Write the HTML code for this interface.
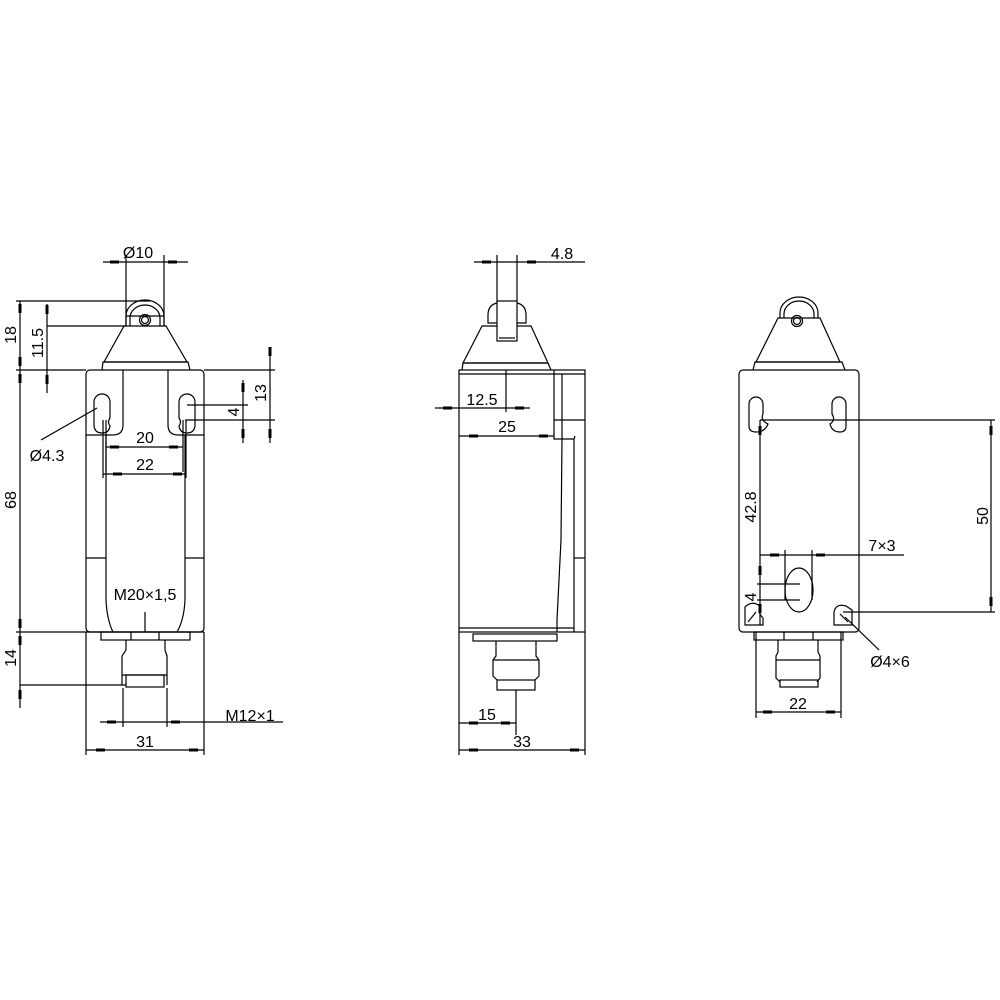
<!DOCTYPE html>
<html><head><meta charset="utf-8"><style>
html,body{margin:0;padding:0;background:#fff;}
svg{display:block}
text{font-family:"Liberation Sans",sans-serif;font-size:16px;fill:#000;}
</style></head><body>
<svg width="1000" height="1000" viewBox="0 0 1000 1000" xmlns="http://www.w3.org/2000/svg">
<g fill="none" stroke="#000" stroke-width="1.2">
<!-- ===== VIEW 1 ===== -->
<path d="M126 326 L126 316 A19 16 0 0 1 164 316 L164 326"/>
<path d="M130 326 L130 318 A15 13 0 0 1 160 318 L160 326"/>
<circle cx="145" cy="320" r="5.5"/><circle cx="145" cy="320" r="3.5"/>
<line x1="126" y1="316" x2="164" y2="316"/>
<path d="M124 326 L166 326 L187 362 L104 362 Z"/>
<path d="M102 370 L103 362 L188 362 L190 370"/>
<rect x="86" y="370" width="118" height="262" rx="4"/>
<path d="M123 370 L123 425 Q123 435 113 435 L86 435"/>
<path d="M168 370 L168 425 Q168 435 178 435 L204 435"/>
<path d="M106 435 L106 600 Q107 620 113 632"/>
<path d="M185 435 L185 600 Q184 620 177 632"/>
<line x1="86" y1="558" x2="106" y2="558"/><line x1="185" y1="558" x2="204" y2="558"/>
<path d="M94 402 A8 8 0 0 1 110 402 L110 418 Q107 422 110 426 Q109 433 102 433 Q95 433 94 426 Z"/>
<path d="M179 402 A8 8 0 0 1 195 402 L195 426 Q194 433 187 433 Q180 433 179 426 Q182 422 179 418 Z"/>
<rect x="101" y="632" width="89" height="8"/>
<line x1="131" y1="632" x2="131" y2="640"/><line x1="159" y1="632" x2="159" y2="640"/>
<path d="M126 640 L126 650 L122 656 L122 685 M165 640 L165 650 L167 656 L167 685"/>
<line x1="122" y1="675" x2="167" y2="675"/>
<rect x="126" y="675" width="38" height="12"/>
<line x1="103" y1="262" x2="188" y2="262"/>
<line x1="126" y1="255" x2="126" y2="326"/><line x1="164" y1="255" x2="164" y2="326"/>
<line x1="16" y1="301" x2="150" y2="301"/>
<line x1="16" y1="370" x2="86" y2="370"/>
<line x1="20" y1="301" x2="20" y2="708"/>
<line x1="47" y1="326" x2="125" y2="326"/>
<line x1="47" y1="304" x2="47" y2="393"/>
<line x1="16" y1="632" x2="204" y2="632"/>
<line x1="20" y1="685" x2="126" y2="685"/>
<line x1="204" y1="370" x2="275" y2="370"/>
<line x1="185" y1="420" x2="275" y2="420"/>
<line x1="187" y1="405" x2="248" y2="405"/>
<line x1="270" y1="347" x2="270" y2="443"/>
<line x1="243" y1="380" x2="243" y2="443"/>
<line x1="41" y1="440" x2="97" y2="408"/>
<line x1="106" y1="420" x2="106" y2="472"/><line x1="183" y1="420" x2="183" y2="472"/>
<line x1="103" y1="420" x2="103" y2="478"/><line x1="186" y1="420" x2="186" y2="478"/>
<line x1="106" y1="447" x2="183" y2="447"/>
<line x1="103" y1="474" x2="186" y2="474"/>
<line x1="145" y1="612" x2="145" y2="632"/>
<line x1="123" y1="688" x2="123" y2="727"/><line x1="167" y1="688" x2="167" y2="727"/>
<line x1="100" y1="722" x2="283" y2="722"/>
<line x1="86" y1="632" x2="86" y2="755"/><line x1="204" y1="632" x2="204" y2="755"/>
<line x1="86" y1="750" x2="204" y2="750"/>

<!-- ===== VIEW 2 ===== -->
<path d="M482 326 L531 326 L548 363 L463 363 Z" fill="#fff"/>
<path d="M497 303 Q488 305 488 315 L488 323 L497 323 M517 303 Q526 305 526 315 L526 323 L517 323"/>
<rect x="497" y="301" width="20" height="40" fill="#fff"/>
<line x1="499" y1="338" x2="515" y2="338"/>
<path d="M462 370 L463 363 L548 363 L551 370"/>
<rect x="459" y="370" width="126" height="262"/>
<line x1="459" y1="374" x2="585" y2="374"/>
<line x1="459" y1="628" x2="574" y2="628"/>
<path d="M554 370 L554 439 L574 439 L575 436"/>
<line x1="562" y1="374" x2="562" y2="439"/>
<line x1="554" y1="420" x2="585" y2="420"/>
<path d="M574 439 L574 632"/>
<path d="M562 439 L561 540 L557 620 L557 632"/>
<line x1="574" y1="558" x2="585" y2="558"/>
<rect x="473" y="634" width="84" height="7"/>
<path d="M496 641 L496 656 L493 660 L493 676 L497 680 M536 641 L536 656 L539 660 L539 676 L535 680"/>
<line x1="493" y1="660" x2="539" y2="660"/>
<rect x="497" y="680" width="38" height="10"/>
<line x1="474" y1="262" x2="585" y2="262"/>
<line x1="497" y1="255" x2="497" y2="301"/><line x1="517" y1="255" x2="517" y2="301"/>
<line x1="435" y1="408" x2="530" y2="408"/>
<line x1="506" y1="370" x2="506" y2="412"/>
<line x1="459" y1="436" x2="554" y2="436"/>
<line x1="516" y1="690" x2="516" y2="735"/>
<line x1="459" y1="723" x2="516" y2="723"/>
<line x1="459" y1="632" x2="459" y2="755"/><line x1="585" y1="632" x2="585" y2="755"/>
<line x1="459" y1="750" x2="585" y2="750"/>

<!-- ===== VIEW 3 ===== -->
<path d="M780 318 L780 313 A19 16 0 0 1 818 313 L818 318"/>
<path d="M784 318 L784 314 A15 13 0 0 1 814 314 L814 318"/>
<circle cx="797" cy="321" r="5.5"/><circle cx="797" cy="321" r="3.5"/>
<path d="M778 318 L820 318 L840 362 L756 362 Z"/>
<path d="M753 370 L755 362 L842 362 L845 370"/>
<rect x="739" y="370" width="120" height="262" rx="4"/>
<path d="M749 404 A7 7 0 0 1 763 404 L763 414 Q760 420 768 424 Q765 432 756 432 Q749 432 749 426 Z"/>
<path d="M832 404 A7 7 0 0 1 846 404 L846 426 Q846 432 840 432 Q832 432 830 424 Q836 420 832 414 Z"/>
<ellipse cx="799" cy="590" rx="14" ry="22"/>
<path d="M745 625 L745 607 Q752 600 760 606 Q757 612 763 618 L763 625 Z M748 622 L756 612"/>
<path d="M834 625 L834 612 Q836 603 846 606 L852 610 L852 625 Z M840 614 L848 622"/>
<rect x="754" y="632" width="89" height="8"/>
<line x1="784" y1="632" x2="784" y2="640"/><line x1="813" y1="632" x2="813" y2="640"/>
<path d="M778 640 L778 652 L776 656 L776 678 L780 682 M818 640 L818 652 L820 656 L820 678 L817 682"/>
<line x1="776" y1="660" x2="820" y2="660"/>
<rect x="780" y="680" width="38" height="7"/>
<line x1="760" y1="420" x2="995" y2="420"/>
<line x1="843" y1="612" x2="995" y2="612"/>
<line x1="991" y1="420" x2="991" y2="612"/>
<line x1="760" y1="420" x2="760" y2="625"/>
<line x1="757" y1="584" x2="800" y2="584"/>
<line x1="757" y1="600" x2="800" y2="600"/>
<line x1="760" y1="555" x2="904" y2="555"/>
<line x1="785" y1="550" x2="785" y2="600"/><line x1="812" y1="550" x2="812" y2="600"/>
<line x1="845" y1="617" x2="879" y2="650"/>
<line x1="756" y1="632" x2="756" y2="718"/><line x1="841" y1="632" x2="841" y2="718"/>
<line x1="756" y1="712" x2="841" y2="712"/>
</g>

<g fill="#000">
<rect x="110" y="260.5" width="9" height="3"/><rect x="168" y="260.5" width="9" height="3"/>
<rect x="18.5" y="304" width="3" height="9"/><rect x="18.5" y="357" width="3" height="9"/>
<rect x="18.5" y="374" width="3" height="9"/><rect x="18.5" y="619" width="3" height="9"/>
<rect x="18.5" y="636" width="3" height="9"/><rect x="18.5" y="690" width="3" height="9"/>
<rect x="45.5" y="305" width="3" height="9"/><rect x="45.5" y="375" width="3" height="9"/>
<rect x="268.5" y="347" width="3" height="9"/><rect x="268.5" y="429" width="3" height="9"/>
<rect x="241.5" y="383" width="3" height="9"/><rect x="241.5" y="429" width="3" height="9"/>
<rect x="110" y="445.5" width="9" height="3"/><rect x="169" y="445.5" width="9" height="3"/>
<rect x="113" y="472.5" width="9" height="3"/><rect x="173" y="472.5" width="9" height="3"/>
<rect x="107" y="720.5" width="9" height="3"/><rect x="171" y="720.5" width="9" height="3"/>
<rect x="96" y="748.5" width="9" height="3"/><rect x="189" y="748.5" width="9" height="3"/>
<rect x="482" y="260.5" width="9" height="3"/><rect x="527" y="260.5" width="9" height="3"/>
<rect x="443" y="406.5" width="9" height="3"/><rect x="515" y="406.5" width="9" height="3"/>
<rect x="469" y="434.5" width="9" height="3"/><rect x="539" y="434.5" width="9" height="3"/>
<rect x="469" y="721.5" width="9" height="3"/><rect x="501" y="721.5" width="9" height="3"/>
<rect x="469" y="748.5" width="9" height="3"/><rect x="570" y="748.5" width="9" height="3"/>
<rect x="989.5" y="426" width="3" height="9"/><rect x="989.5" y="597" width="3" height="9"/>
<rect x="758.5" y="426" width="3" height="9"/><rect x="758.5" y="566" width="3" height="9"/>
<rect x="758.5" y="604" width="3" height="9"/>
<rect x="770" y="553.5" width="9" height="3"/><rect x="816" y="553.5" width="9" height="3"/>
<rect x="763" y="710.5" width="9" height="3"/><rect x="826" y="710.5" width="9" height="3"/>
</g>

<g>
<text x="138" y="258" text-anchor="middle">Ø10</text>
<text transform="translate(16,335) rotate(-90)" text-anchor="middle">18</text>
<text transform="translate(43,343) rotate(-90)" text-anchor="middle">11.5</text>
<text transform="translate(16,500) rotate(-90)" text-anchor="middle">68</text>
<text transform="translate(16,658) rotate(-90)" text-anchor="middle">14</text>
<text transform="translate(266,393) rotate(-90)" text-anchor="middle">13</text>
<text transform="translate(239,412) rotate(-90)" text-anchor="middle">4</text>
<text x="47" y="461" text-anchor="middle">Ø4.3</text>
<text x="145" y="443" text-anchor="middle">20</text>
<text x="145" y="470" text-anchor="middle">22</text>
<text x="145" y="600" text-anchor="middle">M20×1,5</text>
<text x="250" y="721" text-anchor="middle">M12×1</text>
<text x="145" y="747" text-anchor="middle">31</text>
<text x="562" y="259" text-anchor="middle">4.8</text>
<text x="482" y="405" text-anchor="middle">12.5</text>
<text x="507" y="432" text-anchor="middle">25</text>
<text x="487" y="720" text-anchor="middle">15</text>
<text x="522" y="747" text-anchor="middle">33</text>
<text transform="translate(988,516) rotate(-90)" text-anchor="middle">50</text>
<text transform="translate(756,507) rotate(-90)" text-anchor="middle">42.8</text>
<text transform="translate(756,597) rotate(-90)" text-anchor="middle">4</text>
<text x="882" y="551" text-anchor="middle">7×3</text>
<text x="890" y="667" text-anchor="middle">Ø4×6</text>
<text x="798" y="709" text-anchor="middle">22</text>
</g>
</svg>
</body></html>
